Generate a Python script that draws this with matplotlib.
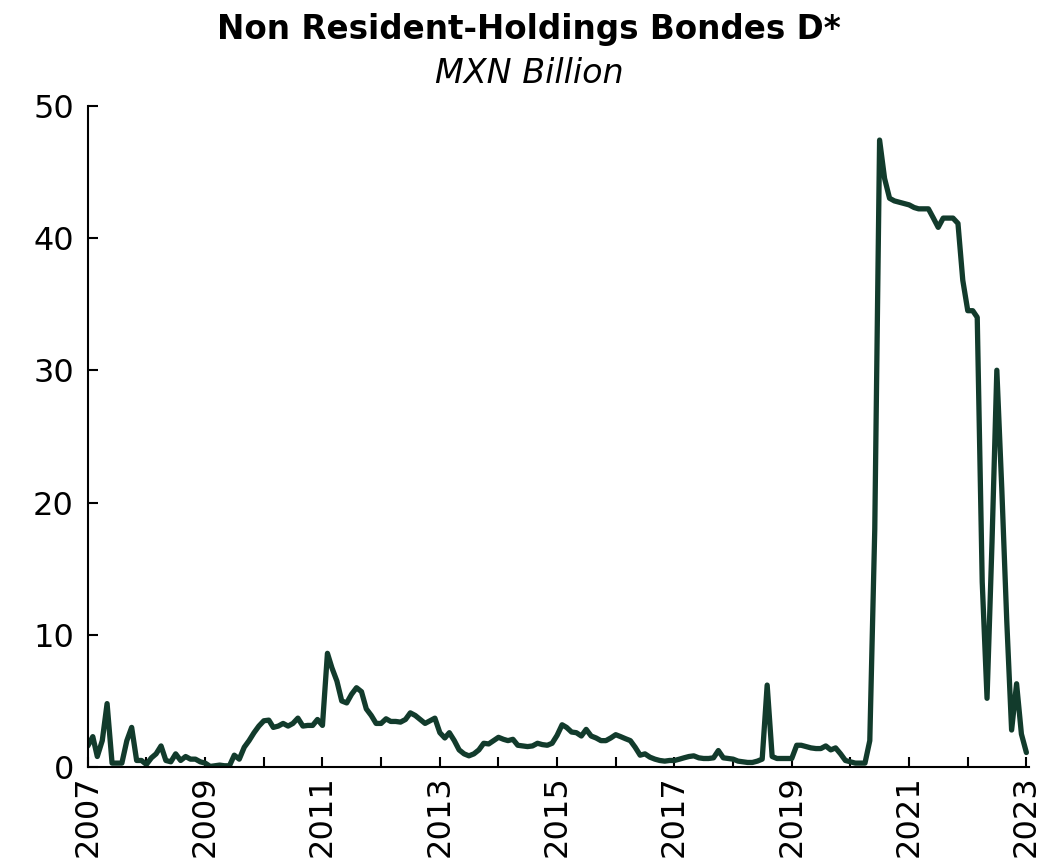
import numpy as np
import pandas as pd
import matplotlib
matplotlib.use("Agg")
import matplotlib.pyplot as plt
import matplotlib.dates as mdates

plt.rcParams['font.family'] = ['DejaVu Sans']

# monthly values, Jan 2007 .. Jan 2023 (MXN bn)
start_month = '2007-01-01'
holdings = [
    # 2007
    1.6, 2.3, 0.8, 2.0, 4.8, 0.3, 0.3, 0.3, 2.0, 3.0, 0.5, 0.5,
    # 2008
    0.2, 0.7, 1.0, 1.6, 0.5, 0.4, 1.0, 0.5, 0.8, 0.6, 0.6, 0.4,
    # 2009
    0.3, 0.05, 0.1, 0.15, 0.1, 0.1, 0.9, 0.6, 1.5, 2.0, 2.6, 3.1,
    # 2010
    3.5, 3.55, 3.0, 3.1, 3.3, 3.1, 3.3, 3.7, 3.1, 3.15, 3.15, 3.6,
    # 2011
    3.15, 8.6, 7.5, 6.5, 5.0, 4.85, 5.5, 6.0, 5.7, 4.4, 3.9, 3.3,
    # 2012
    3.3, 3.65, 3.45, 3.45, 3.4, 3.6, 4.1, 3.9, 3.6, 3.3, 3.5, 3.7,
    # 2013
    2.6, 2.2, 2.6, 2.0, 1.3, 1.0, 0.85, 1.0, 1.3, 1.8, 1.75, 2.0,
    # 2014
    2.25, 2.1, 2.0, 2.1, 1.65, 1.6, 1.55, 1.6, 1.8, 1.7, 1.65, 1.8,
    # 2015
    2.4, 3.2, 3.0, 2.65, 2.6, 2.35, 2.85, 2.35, 2.2, 2.0, 2.0, 2.2,
    # 2016
    2.45, 2.3, 2.15, 2.0, 1.5, 0.9, 1.0, 0.75, 0.6, 0.5, 0.45, 0.5,
    # 2017
    0.5, 0.6, 0.7, 0.8, 0.85, 0.7, 0.65, 0.65, 0.7, 1.25, 0.7, 0.65,
    # 2018
    0.6, 0.45, 0.4, 0.35, 0.35, 0.45, 0.6, 6.2, 0.8, 0.65, 0.65, 0.65,
    # 2019
    0.65, 1.65, 1.65, 1.55, 1.45, 1.4, 1.4, 1.6, 1.3, 1.45, 1.0, 0.5,
    # 2020
    0.4, 0.3, 0.3, 0.3, 2.0, 18.0, 47.4, 44.5, 43.0, 42.8, 42.7, 42.6,
    # 2021
    42.5, 42.3, 42.2, 42.2, 42.2, 41.5, 40.8, 41.5, 41.5, 41.5, 41.1, 36.8,
    # 2022
    34.5, 34.5, 34.0, 14.0, 5.2, 17.0, 30.0, 21.0, 11.0, 2.8, 6.3, 2.5,
    # 2023
    1.1,
]
dates = pd.date_range(start_month, periods=len(holdings), freq='MS')

label_years = list(range(2007, 2024, 2))
title = 'Non Resident-Holdings Bondes D*'
subtitle = 'MXN Billion'
line_color = '#123b2c'

fig = plt.figure(figsize=(10.58, 8.59), dpi=100)
ax = fig.add_axes([0.083, 0.107, 0.89, 0.770])

ax.plot(dates, holdings, color=line_color, lw=3.8, solid_joinstyle='round',
        solid_capstyle='round')

ax.set_ylim(0, 50)
ax.set_yticks(np.arange(0, 51, 10))
ax.set_xlim(pd.Timestamp('2007-01-01'), pd.Timestamp('2023-01-20'))

ax.set_xticks([pd.Timestamp(f'{y}-01-01') for y in label_years])
ax.xaxis.set_major_formatter(mdates.DateFormatter('%Y'))
ax.xaxis.set_minor_locator(mdates.YearLocator(1))

for s in ['top', 'right']:
    ax.spines[s].set_visible(False)
for s in ['left', 'bottom']:
    ax.spines[s].set_linewidth(1.5)

ax.tick_params(axis='both', which='both', direction='in', width=1.5, length=7,
               labelsize=23)
ax.tick_params(axis='x', which='major', rotation=90, pad=6)
ax.tick_params(axis='y', pad=10)

fig.text(0.5, 0.966, title, ha='center', va='center', fontsize=23.5, fontweight='bold')
fig.text(0.5, 0.914, subtitle, ha='center', va='center', fontsize=24, style='italic')

fig.savefig('out.png', dpi=100)
